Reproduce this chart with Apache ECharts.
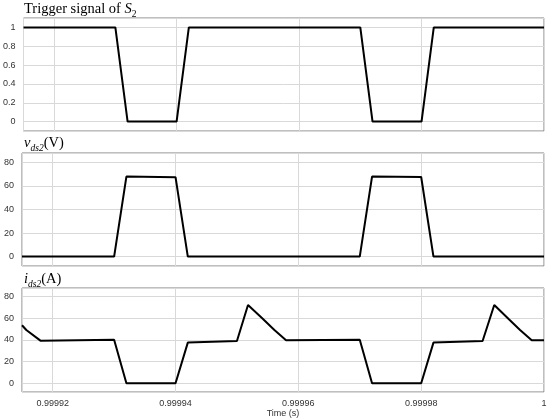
<!DOCTYPE html>
<html><head><meta charset="utf-8">
<script src="https://cdn.jsdelivr.net/npm/echarts@6/dist/echarts.min.js"></script>
<style>html,body{margin:0;padding:0;background:#fff}#c{width:550px;height:419px}</style>
</head><body><div id="c"></div>
<script>
// Time (s)
const switchTime = [0.999915, 0.99993, 0.999932, 0.99994, 0.999942, 0.99997, 0.999972, 0.99998, 0.999982, 1.0];
const triggerS2 = [1, 1, 0, 0, 1, 1, 0, 0, 1, 1];
const vds2 = [0, 0, 68, 67.5, 0, 0, 68, 67.6, 0, 0];
const idsTime = [0.999915, 0.9999157, 0.999918, 0.99993, 0.999932, 0.99994, 0.999942, 0.99995, 0.9999518, 0.9999542, 0.9999561, 0.999958, 0.99997, 0.999972, 0.99998, 0.999982, 0.99999, 0.9999919, 0.9999942, 0.9999961, 0.999998, 1.0];
const ids2 = [53.6, 49.2, 39.4, 40.3, 0, 0, 37.6, 39.1, 72.3, 59.6, 49.2, 39.7, 40.3, 0, 0, 37.6, 39.1, 72.3, 59.6, 49.2, 39.7, 39.7];
const xMin = 0.999915, xMax = 1.0;

const zip = (a, b) => a.map((t, i) => [t, b[i]]);
const chart = echarts.init(document.getElementById('c'), null, {renderer: 'canvas'});
const lblFont = {fontFamily: 'Liberation Sans, Arial, sans-serif', fontSize: 9, color: '#333'};
const grids = [
  {left: 22, right: 6, top: 18, height: 113},
  {left: 22, right: 6, top: 153, height: 113},
  {left: 22, right: 6, top: 288, height: 107}
].map(g => Object.assign(g, {show: true, borderColor: '#7f7f7f', borderWidth: 1, containLabel: false}));
const xAxes = [0, 1, 2].map(i => ({
  type: 'value', gridIndex: i, min: xMin, max: xMax,
  axisLine: {show: false}, axisTick: {show: false},
  splitLine: {show: true, lineStyle: {color: '#d9d9d9', width: 1}},
  axisLabel: Object.assign({show: i === 2, showMinLabel: false, margin: 7}, lblFont),
  name: i === 2 ? 'Time (s)' : '', nameLocation: 'middle', nameGap: 17,
  nameTextStyle: lblFont
}));
const yCfg = [[-0.1, 1.1], [-8, 88], [-8, 88]];
const yAxes = yCfg.map((r, i) => ({
  type: 'value', gridIndex: i, min: r[0], max: r[1], splitNumber: 5,
  axisLine: {show: false}, axisTick: {show: false},
  splitLine: {show: true, lineStyle: {color: '#d9d9d9', width: 1}},
  axisLabel: Object.assign({showMinLabel: false, showMaxLabel: false, margin: 8}, lblFont)
}));
const serif = 'Liberation Serif, Times New Roman, serif';
const rich = {
  n: {fontFamily: serif, fontSize: 14.5, fontWeight: 'normal', color: '#000', lineHeight: 19, verticalAlign: 'middle'},
  i: {fontFamily: serif, fontSize: 14.5, fontWeight: 'normal', fontStyle: 'italic', color: '#000', lineHeight: 19, verticalAlign: 'middle'},
  s: {fontFamily: serif, fontSize: 9.5, fontWeight: 'normal', color: '#000', lineHeight: 8, verticalAlign: 'bottom'},
  si: {fontFamily: serif, fontSize: 9.5, fontWeight: 'normal', fontStyle: 'italic', color: '#000', lineHeight: 8, verticalAlign: 'bottom'}
};
const titles = [
  {text: '{n|Trigger signal of }{i|S}{s|2}', top: 0},
  {text: '{i|v}{si|ds2}{n|(V)}', top: 134},
  {text: '{i|i}{si|ds2}{n|(A)}', top: 270}
].map(t => ({text: t.text, left: 24, top: t.top, padding: 0,
  textStyle: {fontWeight: 'normal', rich}}));
const line = (i, data) => ({
  type: 'line', xAxisIndex: i, yAxisIndex: i, data, showSymbol: false, symbol: 'none',
  lineStyle: {color: '#000', width: 2}, animation: false, clip: true
});
chart.setOption({
  animation: false,
  title: titles,
  grid: grids, xAxis: xAxes, yAxis: yAxes,
  series: [line(0, zip(switchTime, triggerS2)), line(1, zip(switchTime, vds2)), line(2, zip(idsTime, ids2))]
});
</script></body></html>
